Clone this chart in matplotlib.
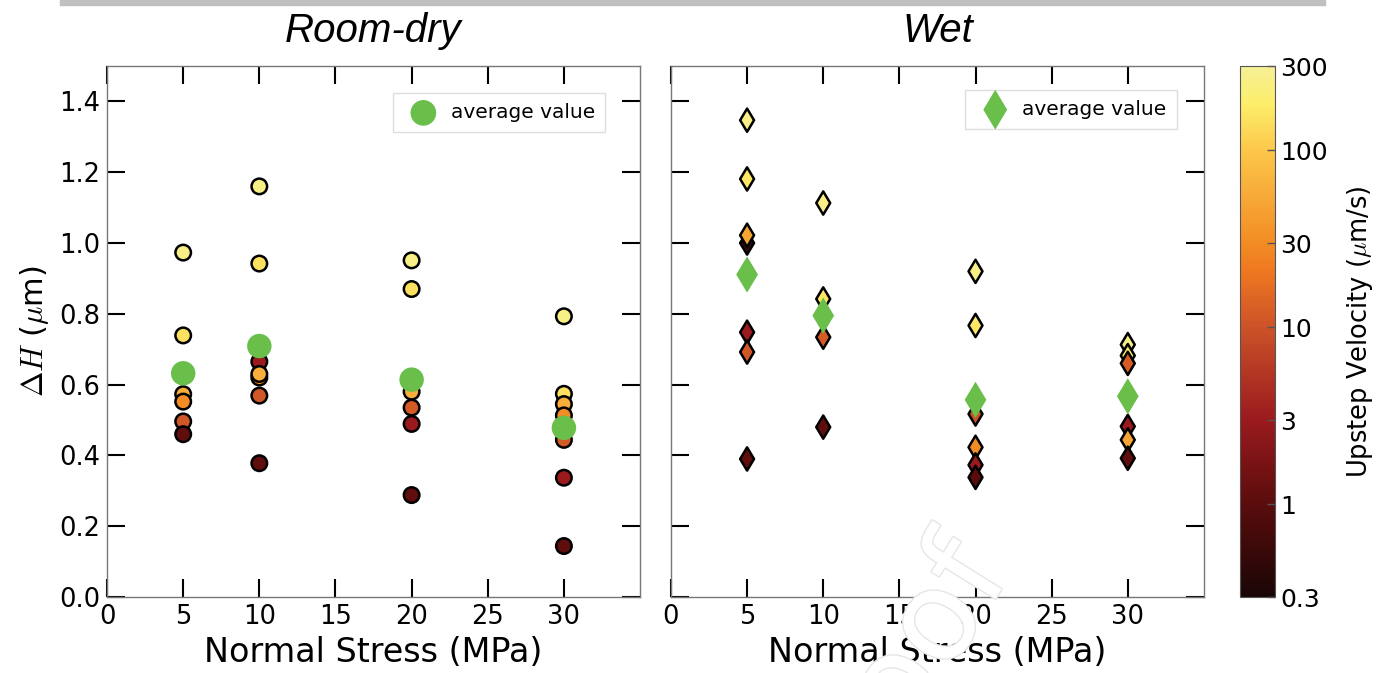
import numpy as np
import matplotlib
matplotlib.use("Agg")
import matplotlib.pyplot as plt
from matplotlib.colors import LinearSegmentedColormap, LogNorm
from matplotlib.patches import Rectangle
import matplotlib.patheffects as pe

# ---------------- data ----------------
dry_stress = [5, 5, 5, 5, 5, 5,
              10, 10, 10, 10, 10, 10, 10,
              20, 20, 20, 20, 20, 20,
              30, 30, 30, 30, 30, 30, 30]
dry_dH = [0.973, 0.739, 0.573, 0.552, 0.496, 0.460,
          1.160, 0.942, 0.665, 0.620, 0.630, 0.569, 0.378,
          0.951, 0.870, 0.580, 0.535, 0.489, 0.288,
          0.793, 0.574, 0.545, 0.513, 0.444, 0.337, 0.144]
dry_vel = [250, 150, 60, 30, 11, 1.1,
           250, 150, 3, 30, 60, 11, 1.1,
           250, 150, 60, 12, 3, 1.1,
           250, 150, 60, 30, 12, 3, 1.1]
dry_avg_stress = [5, 10, 20, 30]
dry_avg_dH = [0.632, 0.709, 0.614, 0.478]

wet_stress = [5, 5, 5, 5, 5, 5, 5,
              10, 10, 10, 10,
              20, 20, 20, 20, 20, 20,
              30, 30, 30, 30, 30, 30]
wet_dH = [1.347, 1.181, 1.000, 1.022, 0.748, 0.692, 0.390,
          1.113, 0.842, 0.734, 0.480,
          0.920, 0.767, 0.517, 0.423, 0.373, 0.338,
          0.713, 0.682, 0.660, 0.482, 0.444, 0.392]
wet_vel = [250, 170, 0.5, 50, 3, 11, 1.1,
           250, 170, 12, 1.1,
           250, 170, 10, 30, 3, 1.0,
           250, 170, 12, 3, 50, 1.1]
wet_avg_stress = [5, 10, 20, 30]
wet_avg_dH = [0.911, 0.795, 0.557, 0.567]

cbar_ticks = [0.3, 1, 3, 10, 30, 100, 300]
cbar_labels = ["0.3", "1", "3", "10", "30", "100", "300"]
x_ticks = [0, 5, 10, 15, 20, 25, 30]
y_ticks = [0.0, 0.2, 0.4, 0.6, 0.8, 1.0, 1.2, 1.4]

# ---------------- style ----------------
cmap = LinearSegmentedColormap.from_list("upstep", [
    (0.00, "#1a0606"),
    (0.174, "#5a0c0c"),
    (0.333, "#9a1a1e"),
    (0.508, "#cc5228"),
    (0.62, "#f07a20"),
    (0.667, "#f28c24"),
    (0.841, "#fcc64a"),
    (0.93, "#fcee6a"),
    (1.00, "#f6f096"),
])
norm = LogNorm(vmin=0.3, vmax=300)
green = "#6abf4b"

plt.rcParams["font.family"] = ["DejaVu Sans"]
plt.rcParams["mathtext.fontset"] = "cm"

fig = plt.figure(figsize=(13.92, 6.73), dpi=100)

# page bar at top
fig.patches.append(Rectangle((60 / 1392, 1 - 5 / 673), 1265 / 1392, 5 / 673,
                             transform=fig.transFigure, color="#c0c0c0", zorder=0))

axL = fig.add_axes([0.0769, 0.1129, 0.3829, 0.789])
axR = fig.add_axes([0.4820, 0.1129, 0.3829, 0.789])
cax = fig.add_axes([0.8908, 0.1129, 0.0251, 0.789])


def style_axis(ax, ylabels=True):
    ax.set_xlim(0, 35)
    ax.set_ylim(0, 1.5)
    ax.set_xticks(x_ticks)
    ax.set_yticks(y_ticks)
    ax.tick_params(direction="in", length=13, width=1.5, top=True, right=True,
                   labelsize=18.5, pad=5, color="black")
    if not ylabels:
        ax.tick_params(labelleft=False)
    else:
        ax.set_yticklabels([f"{v:.1f}" for v in y_ticks])
    for s in ax.spines.values():
        s.set_color("#777777")
        s.set_linewidth(1.0)
    ax.set_xlabel("Normal Stress (MPa)", fontsize=24, labelpad=4)


sc = axL.scatter(dry_stress, dry_dH, c=dry_vel, cmap=cmap, norm=norm, s=125,
                 edgecolors="black", linewidths=1.8, zorder=3)
axL.scatter(dry_avg_stress, dry_avg_dH, marker="o", s=310, color=green,
            edgecolors="none", zorder=4, label="average value")
style_axis(axL, True)
axL.set_ylabel(r"$\Delta H$ ($\mu$m)", fontsize=22, labelpad=6)
axL.set_title("Room-dry", fontsize=29, style="italic",
              family=["Liberation Sans", "DejaVu Sans"], pad=17)
legL = axL.legend(loc="upper right", bbox_to_anchor=(0.934, 0.949), fontsize=14.5,
                  scatterpoints=1, frameon=True, fancybox=False, borderpad=0.5,
                  handletextpad=0.35, borderaxespad=0.0, markerscale=1.05)
legL.get_frame().set_edgecolor("#d6d6d6")
legL.get_frame().set_linewidth(1.0)

axR.scatter(wet_stress, wet_dH, c=wet_vel, cmap=cmap, norm=norm, s=140, marker="d",
            edgecolors="black", linewidths=1.8, zorder=3)
axR.scatter(wet_avg_stress, wet_avg_dH, marker="d", s=340, color=green,
            edgecolors="none", zorder=4, label="average value")
style_axis(axR, False)
axR.set_title("Wet", fontsize=29, style="italic",
              family=["Liberation Sans", "DejaVu Sans"], pad=17)
legR = axR.legend(loc="upper right", bbox_to_anchor=(0.949, 0.955), fontsize=14.5,
                  scatterpoints=1, frameon=True, fancybox=False, borderpad=0.5,
                  handletextpad=0.35, borderaxespad=0.0, markerscale=1.1)
legR.get_frame().set_edgecolor("#d6d6d6")
legR.get_frame().set_linewidth(1.0)

cb = fig.colorbar(sc, cax=cax)
cb.set_ticks(cbar_ticks)
cb.set_ticklabels(cbar_labels)
cb.ax.minorticks_off()
cb.ax.tick_params(labelsize=18, direction="in", length=6, width=1.0, color="#555555", pad=4)
cb.outline.set_edgecolor("#555555")
cb.outline.set_linewidth(0.8)
cb.set_label(r"Upstep Velocity ($\mu$m/s)", fontsize=18.5, labelpad=12)

# faint watermark
fig.text(0.645, -0.025, "Proof", fontsize=90, rotation=58, color="white",
         ha="center", va="center", zorder=10,
         path_effects=[pe.withStroke(linewidth=2, foreground="#e6e6e6")])

fig.savefig("out.png", dpi=100)
